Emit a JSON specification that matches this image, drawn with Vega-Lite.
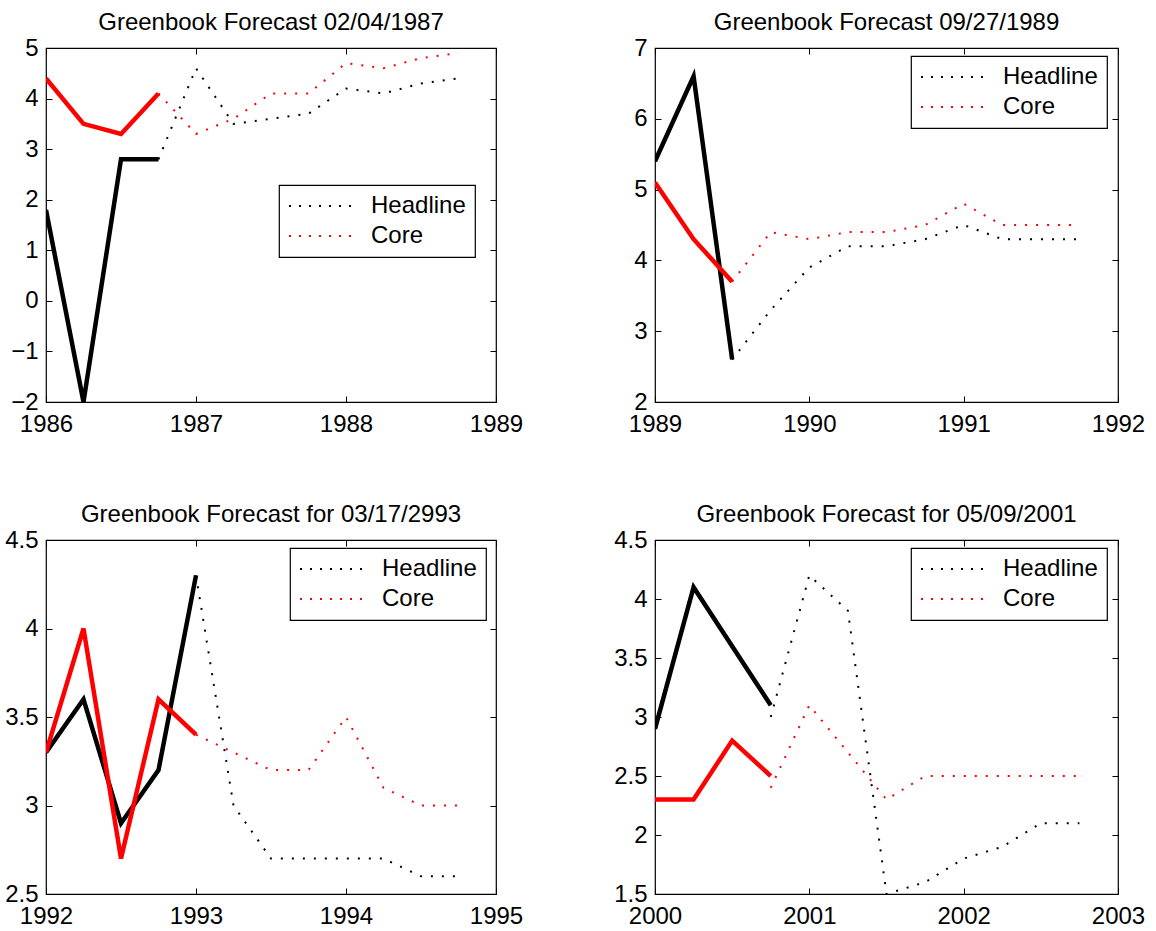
{
  "$schema": "https://vega.github.io/schema/vega-lite/v6.json",
  "background": "white",
  "padding": {"left": 4, "top": 10, "right": 5, "bottom": 5},
  "data": {
    "values": [
      {"p": 1, "s": "Headline", "k": "actual", "t": 1986.0, "v": 1.8},
      {"p": 1, "s": "Headline", "k": "actual", "t": 1986.25, "v": -2.0},
      {"p": 1, "s": "Headline", "k": "actual", "t": 1986.5, "v": 2.8},
      {"p": 1, "s": "Headline", "k": "actual", "t": 1986.75, "v": 2.8},
      {"p": 1, "s": "Core", "k": "actual", "t": 1986.0, "v": 4.4},
      {"p": 1, "s": "Core", "k": "actual", "t": 1986.25, "v": 3.5},
      {"p": 1, "s": "Core", "k": "actual", "t": 1986.5, "v": 3.3},
      {"p": 1, "s": "Core", "k": "actual", "t": 1986.75, "v": 4.1},
      {"p": 1, "s": "Headline", "k": "forecast", "t": 1986.75, "v": 2.8},
      {"p": 1, "s": "Headline", "k": "forecast", "t": 1987.0, "v": 4.6},
      {"p": 1, "s": "Headline", "k": "forecast", "t": 1987.25, "v": 3.5},
      {"p": 1, "s": "Headline", "k": "forecast", "t": 1987.5, "v": 3.6},
      {"p": 1, "s": "Headline", "k": "forecast", "t": 1987.75, "v": 3.7},
      {"p": 1, "s": "Headline", "k": "forecast", "t": 1988.0, "v": 4.2},
      {"p": 1, "s": "Headline", "k": "forecast", "t": 1988.25, "v": 4.1},
      {"p": 1, "s": "Headline", "k": "forecast", "t": 1988.5, "v": 4.3},
      {"p": 1, "s": "Headline", "k": "forecast", "t": 1988.75, "v": 4.4},
      {"p": 1, "s": "Core", "k": "forecast", "t": 1986.75, "v": 4.1},
      {"p": 1, "s": "Core", "k": "forecast", "t": 1987.0, "v": 3.3},
      {"p": 1, "s": "Core", "k": "forecast", "t": 1987.25, "v": 3.6},
      {"p": 1, "s": "Core", "k": "forecast", "t": 1987.5, "v": 4.1},
      {"p": 1, "s": "Core", "k": "forecast", "t": 1987.75, "v": 4.1},
      {"p": 1, "s": "Core", "k": "forecast", "t": 1988.0, "v": 4.7},
      {"p": 1, "s": "Core", "k": "forecast", "t": 1988.25, "v": 4.6},
      {"p": 1, "s": "Core", "k": "forecast", "t": 1988.5, "v": 4.8},
      {"p": 1, "s": "Core", "k": "forecast", "t": 1988.75, "v": 4.9},

      {"p": 2, "s": "Headline", "k": "actual", "t": 1989.0, "v": 5.4},
      {"p": 2, "s": "Headline", "k": "actual", "t": 1989.25, "v": 6.6},
      {"p": 2, "s": "Headline", "k": "actual", "t": 1989.5, "v": 2.6},
      {"p": 2, "s": "Core", "k": "actual", "t": 1989.0, "v": 5.1},
      {"p": 2, "s": "Core", "k": "actual", "t": 1989.25, "v": 4.3},
      {"p": 2, "s": "Core", "k": "actual", "t": 1989.5, "v": 3.7},
      {"p": 2, "s": "Headline", "k": "forecast", "t": 1989.5, "v": 2.6},
      {"p": 2, "s": "Headline", "k": "forecast", "t": 1989.75, "v": 3.3},
      {"p": 2, "s": "Headline", "k": "forecast", "t": 1990.0, "v": 3.9},
      {"p": 2, "s": "Headline", "k": "forecast", "t": 1990.25, "v": 4.2},
      {"p": 2, "s": "Headline", "k": "forecast", "t": 1990.5, "v": 4.2},
      {"p": 2, "s": "Headline", "k": "forecast", "t": 1990.75, "v": 4.3},
      {"p": 2, "s": "Headline", "k": "forecast", "t": 1991.0, "v": 4.5},
      {"p": 2, "s": "Headline", "k": "forecast", "t": 1991.25, "v": 4.3},
      {"p": 2, "s": "Headline", "k": "forecast", "t": 1991.5, "v": 4.3},
      {"p": 2, "s": "Headline", "k": "forecast", "t": 1991.75, "v": 4.3},
      {"p": 2, "s": "Core", "k": "forecast", "t": 1989.5, "v": 3.7},
      {"p": 2, "s": "Core", "k": "forecast", "t": 1989.75, "v": 4.4},
      {"p": 2, "s": "Core", "k": "forecast", "t": 1990.0, "v": 4.3},
      {"p": 2, "s": "Core", "k": "forecast", "t": 1990.25, "v": 4.4},
      {"p": 2, "s": "Core", "k": "forecast", "t": 1990.5, "v": 4.4},
      {"p": 2, "s": "Core", "k": "forecast", "t": 1990.75, "v": 4.5},
      {"p": 2, "s": "Core", "k": "forecast", "t": 1991.0, "v": 4.8},
      {"p": 2, "s": "Core", "k": "forecast", "t": 1991.25, "v": 4.5},
      {"p": 2, "s": "Core", "k": "forecast", "t": 1991.5, "v": 4.5},
      {"p": 2, "s": "Core", "k": "forecast", "t": 1991.75, "v": 4.5},

      {"p": 3, "s": "Headline", "k": "actual", "t": 1992.0, "v": 3.3},
      {"p": 3, "s": "Headline", "k": "actual", "t": 1992.25, "v": 3.6},
      {"p": 3, "s": "Headline", "k": "actual", "t": 1992.5, "v": 2.9},
      {"p": 3, "s": "Headline", "k": "actual", "t": 1992.75, "v": 3.2},
      {"p": 3, "s": "Headline", "k": "actual", "t": 1993.0, "v": 4.3},
      {"p": 3, "s": "Core", "k": "actual", "t": 1992.0, "v": 3.3},
      {"p": 3, "s": "Core", "k": "actual", "t": 1992.25, "v": 4.0},
      {"p": 3, "s": "Core", "k": "actual", "t": 1992.5, "v": 2.7},
      {"p": 3, "s": "Core", "k": "actual", "t": 1992.75, "v": 3.6},
      {"p": 3, "s": "Core", "k": "actual", "t": 1993.0, "v": 3.4},
      {"p": 3, "s": "Headline", "k": "forecast", "t": 1993.0, "v": 4.3},
      {"p": 3, "s": "Headline", "k": "forecast", "t": 1993.25, "v": 3.0},
      {"p": 3, "s": "Headline", "k": "forecast", "t": 1993.5, "v": 2.7},
      {"p": 3, "s": "Headline", "k": "forecast", "t": 1993.75, "v": 2.7},
      {"p": 3, "s": "Headline", "k": "forecast", "t": 1994.0, "v": 2.7},
      {"p": 3, "s": "Headline", "k": "forecast", "t": 1994.25, "v": 2.7},
      {"p": 3, "s": "Headline", "k": "forecast", "t": 1994.5, "v": 2.6},
      {"p": 3, "s": "Headline", "k": "forecast", "t": 1994.75, "v": 2.6},
      {"p": 3, "s": "Core", "k": "forecast", "t": 1993.0, "v": 3.4},
      {"p": 3, "s": "Core", "k": "forecast", "t": 1993.25, "v": 3.3},
      {"p": 3, "s": "Core", "k": "forecast", "t": 1993.5, "v": 3.2},
      {"p": 3, "s": "Core", "k": "forecast", "t": 1993.75, "v": 3.2},
      {"p": 3, "s": "Core", "k": "forecast", "t": 1994.0, "v": 3.5},
      {"p": 3, "s": "Core", "k": "forecast", "t": 1994.25, "v": 3.1},
      {"p": 3, "s": "Core", "k": "forecast", "t": 1994.5, "v": 3.0},
      {"p": 3, "s": "Core", "k": "forecast", "t": 1994.75, "v": 3.0},

      {"p": 4, "s": "Headline", "k": "actual", "t": 2000.0, "v": 2.9},
      {"p": 4, "s": "Headline", "k": "actual", "t": 2000.25, "v": 4.1},
      {"p": 4, "s": "Headline", "k": "actual", "t": 2000.5, "v": 3.6},
      {"p": 4, "s": "Headline", "k": "actual", "t": 2000.75, "v": 3.1},
      {"p": 4, "s": "Core", "k": "actual", "t": 2000.0, "v": 2.3},
      {"p": 4, "s": "Core", "k": "actual", "t": 2000.25, "v": 2.3},
      {"p": 4, "s": "Core", "k": "actual", "t": 2000.5, "v": 2.8},
      {"p": 4, "s": "Core", "k": "actual", "t": 2000.75, "v": 2.5},
      {"p": 4, "s": "Headline", "k": "forecast", "t": 2000.75, "v": 3.0},
      {"p": 4, "s": "Headline", "k": "forecast", "t": 2001.0, "v": 4.2},
      {"p": 4, "s": "Headline", "k": "forecast", "t": 2001.25, "v": 3.9},
      {"p": 4, "s": "Headline", "k": "forecast", "t": 2001.5, "v": 1.5},
      {"p": 4, "s": "Headline", "k": "forecast", "t": 2001.75, "v": 1.6},
      {"p": 4, "s": "Headline", "k": "forecast", "t": 2002.0, "v": 1.8},
      {"p": 4, "s": "Headline", "k": "forecast", "t": 2002.25, "v": 1.9},
      {"p": 4, "s": "Headline", "k": "forecast", "t": 2002.5, "v": 2.1},
      {"p": 4, "s": "Headline", "k": "forecast", "t": 2002.75, "v": 2.1},
      {"p": 4, "s": "Core", "k": "forecast", "t": 2000.75, "v": 2.4},
      {"p": 4, "s": "Core", "k": "forecast", "t": 2001.0, "v": 3.1},
      {"p": 4, "s": "Core", "k": "forecast", "t": 2001.25, "v": 2.7},
      {"p": 4, "s": "Core", "k": "forecast", "t": 2001.5, "v": 2.3},
      {"p": 4, "s": "Core", "k": "forecast", "t": 2001.75, "v": 2.5},
      {"p": 4, "s": "Core", "k": "forecast", "t": 2002.0, "v": 2.5},
      {"p": 4, "s": "Core", "k": "forecast", "t": 2002.25, "v": 2.5},
      {"p": 4, "s": "Core", "k": "forecast", "t": 2002.5, "v": 2.5},
      {"p": 4, "s": "Core", "k": "forecast", "t": 2002.75, "v": 2.5}
    ]
  },
  "columns": 2,
  "spacing": {"row": 138, "column": 159},
  "bounds": "flush",
  "align": "each",
  "resolve": {"scale": {"color": "independent", "x": "independent", "y": "independent"}, "legend": {"color": "independent"}},
  "concat": [
    {
      "width": 450, "height": 354,
      "title": {"text": "Greenbook Forecast 02/04/1987"},
      "transform": [{"filter": "datum.p == 1"}],
      "resolve": {"axis": {"x": "independent", "y": "independent"}},
      "layer": [
        {
          "transform": [{"filter": "datum.k == 'actual'"}],
          "mark": {"type": "line", "strokeWidth": 4.5, "clip": true},
          "encoding": {
            "x": {"field": "t", "type": "quantitative", "scale": {"domain": [1986, 1989], "nice": false, "zero": false},
                  "axis": {"orient": "bottom", "values": [1986, 1987, 1988, 1989], "format": "d", "title": null, "labelPadding": 16, "labelFlush": false, "labelOverlap": false}},
            "y": {"field": "v", "type": "quantitative", "scale": {"domain": [-2, 5], "nice": false, "zero": false},
                  "axis": {"orient": "left", "values": [-2, -1, 0, 1, 2, 3, 4, 5], "format": "~g", "title": null, "labelPadding": 14, "labelOverlap": false}},
            "color": {"field": "s", "type": "nominal", "scale": {"domain": ["Headline", "Core"], "range": ["#000000", "#ff0000"]},
                      "legend": {"orient": "none", "legendX": 233, "legendY": 137}}
          }
        },
        {
          "transform": [{"filter": "datum.k == 'forecast'"}],
          "mark": {"type": "line", "strokeWidth": 2, "strokeDash": [2, 9], "clip": true},
          "encoding": {
            "x": {"field": "t", "type": "quantitative", "axis": {"orient": "top", "values": [1986, 1987, 1988, 1989], "labels": false, "title": null}},
            "y": {"field": "v", "type": "quantitative", "axis": {"orient": "right", "values": [-2, -1, 0, 1, 2, 3, 4, 5], "labels": false, "title": null}},
            "color": {"field": "s", "type": "nominal", "legend": {"orient": "none", "legendX": 233, "legendY": 137}}
          }
        }
      ]
    },
    {
      "width": 463, "height": 354,
      "title": {"text": "Greenbook Forecast 09/27/1989"},
      "transform": [{"filter": "datum.p == 2"}],
      "resolve": {"axis": {"x": "independent", "y": "independent"}},
      "layer": [
        {
          "transform": [{"filter": "datum.k == 'actual'"}],
          "mark": {"type": "line", "strokeWidth": 4.5, "clip": true},
          "encoding": {
            "x": {"field": "t", "type": "quantitative", "scale": {"domain": [1989, 1992], "nice": false, "zero": false},
                  "axis": {"orient": "bottom", "values": [1989, 1990, 1991, 1992], "format": "d", "title": null, "labelPadding": 16, "labelFlush": false, "labelOverlap": false}},
            "y": {"field": "v", "type": "quantitative", "scale": {"domain": [2, 7], "nice": false, "zero": false},
                  "axis": {"orient": "left", "values": [2, 3, 4, 5, 6, 7], "format": "~g", "title": null, "labelPadding": 14, "labelOverlap": false}},
            "color": {"field": "s", "type": "nominal", "scale": {"domain": ["Headline", "Core"], "range": ["#000000", "#ff0000"]},
                      "legend": {"orient": "none", "legendX": 256, "legendY": 8}}
          }
        },
        {
          "transform": [{"filter": "datum.k == 'forecast'"}],
          "mark": {"type": "line", "strokeWidth": 2, "strokeDash": [2, 9], "clip": true},
          "encoding": {
            "x": {"field": "t", "type": "quantitative", "axis": {"orient": "top", "values": [1989, 1990, 1991, 1992], "labels": false, "title": null}},
            "y": {"field": "v", "type": "quantitative", "axis": {"orient": "right", "values": [2, 3, 4, 5, 6, 7], "labels": false, "title": null}},
            "color": {"field": "s", "type": "nominal", "legend": {"orient": "none", "legendX": 256, "legendY": 8}}
          }
        }
      ]
    },
    {
      "width": 450, "height": 354,
      "title": {"text": "Greenbook Forecast for 03/17/2993"},
      "transform": [{"filter": "datum.p == 3"}],
      "resolve": {"axis": {"x": "independent", "y": "independent"}},
      "layer": [
        {
          "transform": [{"filter": "datum.k == 'actual'"}],
          "mark": {"type": "line", "strokeWidth": 4.5, "clip": true},
          "encoding": {
            "x": {"field": "t", "type": "quantitative", "scale": {"domain": [1992, 1995], "nice": false, "zero": false},
                  "axis": {"orient": "bottom", "values": [1992, 1993, 1994, 1995], "format": "d", "title": null, "labelPadding": 16, "labelFlush": false, "labelOverlap": false}},
            "y": {"field": "v", "type": "quantitative", "scale": {"domain": [2.5, 4.5], "nice": false, "zero": false},
                  "axis": {"orient": "left", "values": [2.5, 3, 3.5, 4, 4.5], "format": "~g", "title": null, "labelPadding": 14, "labelOverlap": false}},
            "color": {"field": "s", "type": "nominal", "scale": {"domain": ["Headline", "Core"], "range": ["#000000", "#ff0000"]},
                      "legend": {"orient": "none", "legendX": 244, "legendY": 8}}
          }
        },
        {
          "transform": [{"filter": "datum.k == 'forecast'"}],
          "mark": {"type": "line", "strokeWidth": 2, "strokeDash": [2, 9], "clip": true},
          "encoding": {
            "x": {"field": "t", "type": "quantitative", "axis": {"orient": "top", "values": [1992, 1993, 1994, 1995], "labels": false, "title": null}},
            "y": {"field": "v", "type": "quantitative", "axis": {"orient": "right", "values": [2.5, 3, 3.5, 4, 4.5], "labels": false, "title": null}},
            "color": {"field": "s", "type": "nominal", "legend": {"orient": "none", "legendX": 244, "legendY": 8}}
          }
        }
      ]
    },
    {
      "width": 463, "height": 354,
      "title": {"text": "Greenbook Forecast for 05/09/2001"},
      "transform": [{"filter": "datum.p == 4"}],
      "resolve": {"axis": {"x": "independent", "y": "independent"}},
      "layer": [
        {
          "transform": [{"filter": "datum.k == 'actual'"}],
          "mark": {"type": "line", "strokeWidth": 4.5, "clip": true},
          "encoding": {
            "x": {"field": "t", "type": "quantitative", "scale": {"domain": [2000, 2003], "nice": false, "zero": false},
                  "axis": {"orient": "bottom", "values": [2000, 2001, 2002, 2003], "format": "d", "title": null, "labelPadding": 16, "labelFlush": false, "labelOverlap": false}},
            "y": {"field": "v", "type": "quantitative", "scale": {"domain": [1.5, 4.5], "nice": false, "zero": false},
                  "axis": {"orient": "left", "values": [1.5, 2, 2.5, 3, 3.5, 4, 4.5], "format": "~g", "title": null, "labelPadding": 14, "labelOverlap": false}},
            "color": {"field": "s", "type": "nominal", "scale": {"domain": ["Headline", "Core"], "range": ["#000000", "#ff0000"]},
                      "legend": {"orient": "none", "legendX": 256, "legendY": 8}}
          }
        },
        {
          "transform": [{"filter": "datum.k == 'forecast'"}],
          "mark": {"type": "line", "strokeWidth": 2, "strokeDash": [2, 9], "clip": true},
          "encoding": {
            "x": {"field": "t", "type": "quantitative", "axis": {"orient": "top", "values": [2000, 2001, 2002, 2003], "labels": false, "title": null}},
            "y": {"field": "v", "type": "quantitative", "axis": {"orient": "right", "values": [1.5, 2, 2.5, 3, 3.5, 4, 4.5], "labels": false, "title": null}},
            "color": {"field": "s", "type": "nominal", "legend": {"orient": "none", "legendX": 256, "legendY": 8}}
          }
        }
      ]
    }
  ],
  "config": {
    "font": "Liberation Sans",
    "view": {"stroke": "#000000", "strokeWidth": 1.2},
    "axis": {"domain": false, "grid": false, "ticks": true, "tickColor": "#000000", "tickSize": -6, "tickWidth": 1, "labelColor": "#000000", "labelFontSize": 24, "labelFont": "Liberation Sans", "minExtent": 0},
    "title": {"fontSize": 24, "fontWeight": "normal", "color": "#000000", "font": "Liberation Sans", "offset": 1, "anchor": "middle"},
    "legend": {
      "title": null,
      "symbolType": "M-1,0H5",
      "symbolSize": 484,
      "symbolStrokeWidth": 2,
      "symbolDash": [2, 8],
      "symbolFillColor": "transparent",
      "labelFontSize": 24,
      "labelFont": "Liberation Sans",
      "labelColor": "#000000",
      "labelOffset": 59,
      "padding": 9,
      "rowPadding": 6,
      "strokeColor": "#000000",
      "strokeWidth": 1.2,
      "fillColor": "#ffffff",
      "cornerRadius": 0
    }
  }
}
